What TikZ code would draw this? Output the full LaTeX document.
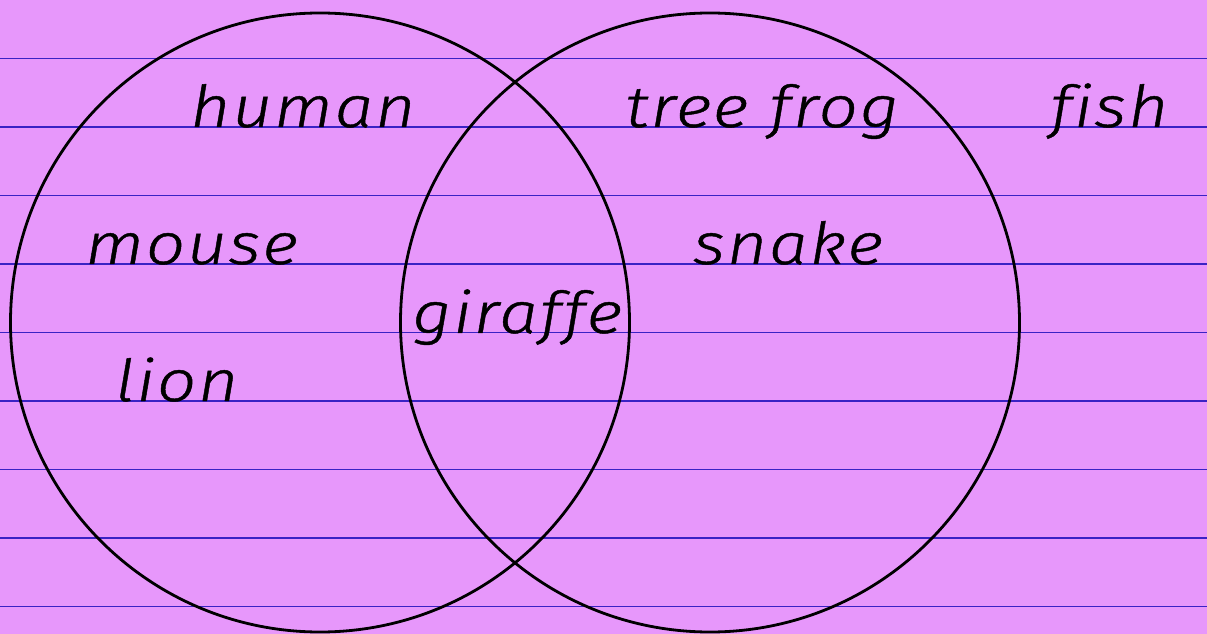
\documentclass[tikz,border=0pt]{standalone}
\usepackage{fontspec}
\newfontfamily\handfont[FakeStretch=1.2,LetterSpace=3,FakeBold=0.8,Ligatures=NoCommon]{Fira Sans Light Italic}
\definecolor{paper}{RGB}{231,151,251}
\definecolor{rule}{RGB}{58,34,196}
\tikzset{
  word/.style={anchor=base west, inner sep=0pt, font=\handfont\fontsize{58}{62}\selectfont, text=black},
  setring/.style={circle, draw=black, line width=2.8bp, minimum size=619bp, inner sep=0pt},
  ruling/.style={draw=rule, line width=1.3bp}
}
\begin{document}
\begin{tikzpicture}[x=1bp, y=-1bp]
\fill[paper] (0,0) rectangle (1207,634);
\useasboundingbox (0,0) rectangle (1207,634);
\foreach \yy in {58.5,127,195.5,264,332.5,401,469.5,538,606.5}
  \draw[ruling] (0,\yy) -- (1207,\yy);
\node[setring] (setA) at (320,322.5) {};
\node[setring] (setB) at (710,322.5) {};
\node[word] (human) at (190,127) {human};
\node[word] (treefrog) at (625,127) {tree frog};
\node[word] (fish) at (1050,127) {fish};
\node[word] (mouse) at (85,264) {mouse};
\node[word] (snake) at (693,264) {snake};
\node[word] (giraffe) at (412,333) {giraffe};
\node[word] (lion) at (115,401) {lion};
\end{tikzpicture}
\end{document}
